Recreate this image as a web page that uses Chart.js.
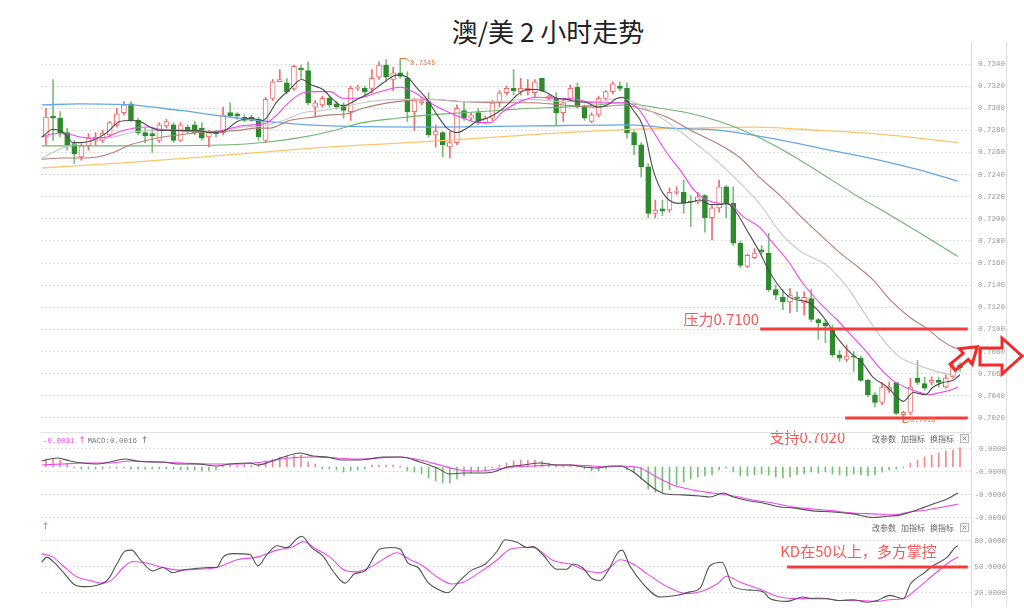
<!DOCTYPE html>
<html><head><meta charset="utf-8">
<script src="https://cdn.jsdelivr.net/npm/chart.js@4.4.0/dist/chart.umd.min.js"></script>
<style>
html,body{margin:0;padding:0;background:#fff;}
#wrap{position:relative;width:1024px;height:612px;overflow:hidden;background:#fff;}
canvas{position:absolute;left:0;top:0;}
#title{position:absolute;top:15px;left:448px;width:200px;text-align:center;white-space:nowrap;font-family:"Noto Sans CJK SC",sans-serif;font-size:26px;color:#222;line-height:1.2;}
</style></head><body>
<div id="wrap">
<div id="title">澳/美 2 小时走势</div>
<canvas id="main" width="1024" height="612"></canvas>
<canvas id="macd" width="1024" height="612"></canvas>
<canvas id="kd" width="1024" height="612"></canvas>
</div>
<script>
// ---------- candles (2-hour AUD/USD) ----------
const opens = [.7274,.7293,.7291,.7278,.7268,.7256,.7266,.7271,.7271,.7276,.7285,.7296,.7304,.7289,.7278,.7277,.7271,.7284,.7285,.7271,
.7283,.7285,.7282,.7274,.7279,.7278,.7296,.7295,.7292,.7292,.7290,.7271,.7309,.7324,.7323,.7318,.7336,.7334,.7301,.7303,
.7309,.7304,.7303,.7297,.7318,.7318,.7318,.7328,.7339,.7326,.7332,.7327,.7297,.7305,.7306,.7276,.7278,.7265,.7269,.7298,
.7291,.7296,.7287,.7291,.7305,.7314,.7318,.7315,.7316,.7314,.7327,.7309,.7309,.7296,.7309,.7319,.7301,.7288,.7294,.7309,
.7315,.7320,.7318,.7278,.7267,.7247,.7205,.7209,.7208,.7224,.7224,.7216,.7215,.7221,.7201,.7210,.7229,.7214,.7178,.7157,
.7165,.7172,.7169,.7136,.7129,.7125,.7129,.7124,.7128,.7109,.7106,.7101,.7077,.7073,.7076,.7074,.7054,.7041,.7034,.7045,
.7052,.7023,.7025,.7056,.7051,.7052,.7054,.7048,.7057,.7068];
const closes = [.7292,.7291,.7278,.7267,.7259,.7266,.7273,.7274,.7277,.7287,.7295,.7303,.7289,.7278,.7275,.7275,.7285,.7288,.7271,.7285,
.7280,.7278,.7273,.7278,.7277,.7294,.7293,.7293,.7289,.7289,.7274,.7308,.7324,.7326,.7315,.7338,.7335,.7305,.7305,.7309,
.7303,.7301,.7298,.7318,.7319,.7315,.7327,.7339,.7328,.7332,.7329,.7297,.7307,.7307,.7276,.7279,.7267,.7269,.7300,.7291,
.7294,.7288,.7291,.7305,.7314,.7318,.7316,.7318,.7318,.7324,.7316,.7311,.7296,.7305,.7318,.7301,.7291,.7294,.7309,.7315,
.7322,.7318,.7278,.7267,.7247,.7205,.7208,.7207,.7224,.7225,.7214,.7215,.7220,.7201,.7210,.7229,.7214,.7178,.7158,.7167,
.7169,.7170,.7136,.7131,.7125,.7131,.7128,.7129,.7109,.7106,.7103,.7077,.7074,.7076,.7075,.7054,.7041,.7034,.7048,.7048,
.7024,.7025,.7048,.7052,.7047,.7054,.7052,.7056,.7067,.7065];
const highs = [.7300,.7326,.7297,.7282,.7271,.7269,.7277,.7278,.7280,.7288,.7300,.7306,.7306,.7291,.7282,.7282,.7287,.7290,.7287,.7287,
.7285,.7288,.7287,.7280,.7280,.7301,.7305,.7296,.7294,.7294,.7292,.7310,.7326,.7335,.7327,.7339,.7339,.7342,.7307,.7311,
.7311,.7306,.7305,.7320,.7321,.7320,.7335,.7342,.7344,.7337,.7345,.7333,.7309,.7309,.7314,.7285,.7279,.7279,.7303,.7306,
.7296,.7300,.7293,.7307,.7316,.7320,.7335,.7327,.7326,.7326,.7327,.7312,.7314,.7307,.7321,.7323,.7303,.7296,.7311,.7316,
.7324,.7324,.7323,.7280,.7269,.7250,.7217,.7217,.7228,.7229,.7235,.7221,.7224,.7222,.7213,.7235,.7230,.7229,.7180,.7168,
.7173,.7176,.7187,.7140,.7136,.7137,.7134,.7134,.7136,.7110,.7109,.7104,.7081,.7086,.7080,.7076,.7055,.7043,.7052,.7052,
.7052,.7026,.7056,.7072,.7057,.7057,.7057,.7059,.7070,.7070];
const lows = [.7267,.7271,.7274,.7262,.7250,.7253,.7262,.7267,.7269,.7274,.7283,.7294,.7288,.7276,.7269,.7260,.7269,.7282,.7269,.7270,
.7278,.7276,.7271,.7265,.7274,.7276,.7292,.7290,.7288,.7288,.7271,.7269,.7307,.7324,.7313,.7316,.7327,.7303,.7292,.7301,
.7301,.7299,.7291,.7289,.7316,.7312,.7314,.7326,.7324,.7316,.7327,.7288,.7280,.7303,.7274,.7265,.7256,.7255,.7267,.7289,
.7289,.7285,.7286,.7289,.7301,.7312,.7312,.7312,.7312,.7310,.7315,.7307,.7285,.7288,.7307,.7300,.7289,.7287,.7292,.7307,
.7313,.7316,.7273,.7258,.7238,.7201,.7201,.7203,.7206,.7222,.7205,.7193,.7214,.7188,.7181,.7206,.7201,.7176,.7156,.7156,
.7164,.7168,.7134,.7127,.7118,.7115,.7116,.7113,.7107,.7091,.7088,.7075,.7071,.7071,.7062,.7053,.7039,.7030,.7032,.7043,
.7023,.7016,.7023,.7050,.7045,.7050,.7048,.7047,.7056,.7062];

// ---------- moving averages: [candle index, price] ----------
const ma5 = [[-0.6,.7274],[1,.7281],[2.4,.72785],[3.8,.7269],[5.2,.7269],[6.6,.7271],[8.6,.7278],[10.4,.7288],[11.9,.7289],[13.3,.7288],[14.7,.7283],[16.1,.7280],[17.5,.7280],[19.3,.7280],[21.3,.7280],[23.1,.7278],[25,.7279],[27,.7288],[28.8,.7291],[30.6,.7289],[32.6,.7306],[34.4,.7317],[36.1,.7326],[37.5,.7321],[39.1,.7317],[40.5,.7308],[41.9,.7302],[43.9,.7308],[45.7,.7314],[47.6,.7323],[49.5,.7330],[51,.7328],[52.4,.7318],[53.8,.7308],[55.2,.7294],[56.6,.7282],[58,.7278],[59.4,.7282],[60.8,.7288],[62.2,.7291],[63.7,.7296],[65.1,.7303],[66.5,.7312],[67.9,.7317],[69.3,.7317],[70.7,.7314],[72.1,.7309],[73.5,.7308],[74.9,.7306],[76.4,.7305],[77.8,.7301],[79.2,.7303],[80.6,.7309],[81.4,.7310],[82.9,.7298],[84.3,.7283],[85.7,.7244],[87.1,.7223],[89.1,.7214],[90.9,.7215],[92.3,.7217],[93.7,.7213],[95.1,.7213],[96.1,.7214],[97.2,.7208],[98.9,.7190],[100.8,.7169],[102.2,.7151],[105,.7129],[107.8,.7124],[110,.7109],[111.6,.7093],[113.5,.7079],[115.2,.7070],[116.7,.7057],[118.7,.7048],[120.1,.7039],[121,.7035],[122.4,.7043],[124.1,.7041],[125.2,.7048],[126.6,.7052],[128,.7054],[129,.7059]];
const ma10 = [[-0.6,.7274],[1,.7277],[3,.7277],[4.8,.7274],[6.6,.7273],[8.6,.7274],[10.4,.7279],[12.3,.7282],[14.3,.7283],[16.1,.7281],[17.9,.7280],[19.9,.7279],[21.7,.7279],[23.6,.7279],[25.5,.7281],[27.4,.7284],[29.2,.7285],[31.2,.7287],[32.6,.7294],[34.4,.7306],[36.3,.7314],[38.2,.7315],[40.1,.7315],[41.9,.7309],[43.9,.7309],[47.1,.7315],[50,.7319],[51.8,.7315],[54.2,.7305],[56.6,.7297],[58.9,.7291],[61.3,.7287],[62.7,.7287],[64.5,.7297],[66.9,.7306],[69.3,.7310],[72.1,.7309],[74.9,.7308],[77.2,.7305],[79.6,.7305],[81.4,.7305],[83.4,.7301],[85.3,.7283],[87.6,.7260],[89.5,.7244],[91.6,.7225],[93.3,.7217],[95.1,.7214],[96.6,.7213],[98.4,.7202],[100.8,.7192],[102.2,.7181],[104.6,.7163],[106.8,.7142],[109.2,.7124],[111.6,.7109],[113.9,.7093],[115.9,.7079],[117.7,.7065],[119.5,.7054],[121.5,.7047],[123.4,.7043],[124.8,.7041],[126.2,.7043],[127.6,.7045],[128.7,.7048]];
const ma20 = [[-0.6,.7255],[2.4,.7264],[5.8,.7270],[9.5,.7274],[12.8,.7279],[16.5,.7280],[20.3,.7280],[24.1,.7279],[27.8,.7283],[30.6,.7284],[33.5,.7289],[36.3,.7296],[39.1,.7298],[42.5,.7302],[44.7,.7305],[49.5,.7308],[54.2,.7308],[58.9,.7306],[63.7,.7306],[68.3,.7308],[73,.7306],[77.8,.7306],[81,.7309],[83.8,.7303],[86.7,.7292],[89.5,.7279],[92.3,.7265],[95.1,.7250],[98,.7232],[100.8,.7213],[103.6,.7188],[106.4,.7171],[110.2,.7158],[113.1,.7138],[115.9,.7111],[118.1,.7091],[120.5,.7075],[122.9,.7068],[125.2,.7063],[127.6,.7059],[129,.7057]];
const ma30 = [[-0.6,.7254],[2.4,.7255],[4.8,.7255],[7.2,.7256],[9.5,.7260],[11.9,.7267],[14.3,.7271],[16.5,.7274],[18.9,.7276],[21.3,.7278],[24.1,.7279],[27,.7280],[29.8,.7282],[31.6,.7282],[34.4,.7289],[37.7,.7292],[40.1,.7294],[42.5,.7295],[44.7,.7300],[49.5,.7306],[54.2,.7308],[58.9,.7306],[63.7,.7305],[68.3,.7305],[73,.7303],[77.8,.7301],[81.4,.7303],[83.8,.7300],[87.6,.7292],[91.3,.7279],[95.1,.7267],[98,.7255],[100.8,.7237],[103.6,.7221],[106.4,.7203],[109.2,.7186],[112.1,.7169],[113.9,.7160],[116.7,.7145],[119.1,.7127],[121.9,.7111],[124.3,.7101],[126.2,.7091],[128,.7084],[129.3,.7082]];
const ma60 = [[-0.6,.7266],[11.9,.7266],[26,.7267],[30.6,.7269],[35.4,.7273],[40.1,.7279],[44.7,.7287],[49.5,.7291],[54.2,.7294],[58.9,.7296],[63.7,.7298],[68.3,.7300],[73,.7301],[77.8,.7303],[81,.7305],[85.7,.7301],[90.5,.7296],[95.1,.7288],[99.8,.7276],[104.6,.7260],[109.2,.7242],[113.9,.7223],[118.7,.7205],[123.4,.7187],[128.7,.7166]];
const ma120 = [[-0.6,.7303],[4.8,.7304],[11.9,.7303],[18.9,.7298],[26,.7292],[33,.7287],[40.1,.7284],[54.2,.7283],[68.3,.7284],[82.4,.7285],[88.1,.7282],[95.1,.7280],[102.2,.7273],[109.2,.7264],[116.3,.7255],[123.4,.7244],[128.7,.7234]];
const ma250 = [[-0.6,.7246],[11.9,.7251],[26,.7258],[40.1,.7265],[54.2,.7270],[68.3,.7276],[82.4,.7281],[90.5,.7282],[99.8,.7283],[109.2,.7280],[118.7,.7276],[128.7,.7269]];
const priceTicks = [0.7340,0.7320,0.7300,0.7280,0.7260,0.7240,0.7220,0.7200,0.7180,0.7160,0.7140,0.7120,0.7100,0.7080,0.7060,0.7040,0.7020];

// ---------- MACD ----------
const macdHist = [.00066,.00066,.00058,.00025,-.00008,-.00017,-.00017,-.00017,-.00017,-.00008,
-.00008,-.00008,-.00017,-.00017,-.00017,-.00017,-.00017,-.00017,-.00017,-.00025,
-.00025,-.00025,-.00033,-.00033,-.00025,.00008,.00017,.00017,.00025,.00017,
.00017,.00042,.00066,.00083,.00091,.001,.001,.00042,.00025,-.00017,
-.00017,-.00025,-.00042,-.00033,-.00025,-.00017,.00017,.00017,.00017,.00017,
.00008,-.00033,-.00042,-.00058,-.00091,-.00116,-.00133,-.00133,-.001,-.00075,
-.0005,-.00042,-.00033,-.00008,.00017,.00033,.0005,.00058,.00058,.00058,
.0005,.00033,.00017,.00008,.00017,.00008,-.00017,-.00033,-.00033,-.00017,
.00008,.00008,-.00025,-.0005,-.001,-.00183,-.00208,-.00208,-.00191,-.0015,
-.00125,-.001,-.00083,-.00075,-.00066,-.00025,-.00008,-.00042,-.00075,-.00075,
-.00066,-.00058,-.00066,-.00083,-.00091,-.00083,-.00066,-.00058,-.00042,-.0005,
-.00042,-.00058,-.00066,-.00075,-.00058,-.00066,-.00075,-.00066,-.00042,-.00025,
-.00017,-.00008,.00033,.00058,.00083,.001,.00116,.00133,.00141,.0016];
const difLine = [[-0.6,.0005],[1.6,.00075],[3.4,.0005],[5.2,.00033],[7.2,.00025],[9,.00042],[11.2,.00066],[12.8,.0005],[14.7,.00042],[16.5,.00042],[18.5,.00025],[21.3,.00025],[24.1,.00008],[26,.00025],[28.8,.00033],[29.9,.00017],[31.6,.00042],[33.5,.00083],[35.9,.00116],[37.7,.00091],[39.7,.00083],[41.9,.00058],[43.9,.00058],[45.7,.00066],[47.6,.00083],[50,.00083],[52.8,.00042],[55.2,-.00008],[57,-.00058],[58.9,-.0005],[61.3,-.0005],[63.1,-.00042],[65.1,0],[67.3,.00017],[69.7,.00033],[72.1,.00017],[74,.00017],[75.8,0],[77.8,-.00008],[79.6,.00008],[81,.00008],[82.9,-.00042],[84.3,-.00108],[85.7,-.00174],[87.4,-.00224],[89.9,-.00232],[92.3,-.00241],[93.7,-.00249],[95.6,-.00216],[97,-.00249],[99.4,-.00282],[101.2,-.00299],[103.6,-.00332],[105.4,-.0034],[108.3,-.00365],[111.1,-.00374],[113.9,-.0039],[116.7,-.0042],[118.7,-.0041],[120.5,-.004],[122.9,-.00357],[125.2,-.00307],[127.2,-.00266],[128.7,-.00216]];
const deaLine = [[-0.6,.00017],[2.4,.00025],[5.2,.00033],[9,.00033],[11.9,.0005],[15.7,.00042],[19.3,.00033],[23.1,.00025],[27,.00025],[30.6,.00042],[34.4,.00075],[38.2,.00083],[41.1,.00075],[43.9,.00066],[46.7,.00075],[50,.00083],[52.8,.00058],[55.6,.00017],[58.4,-.00025],[61.3,-.00033],[63.7,-.00017],[65.9,0],[68.7,.00008],[71.6,.00017],[74.4,.00017],[77.2,.00008],[79.6,0],[81,.00008],[83.8,-.00008],[86.2,-.00083],[88.5,-.00149],[91.3,-.00191],[94.1,-.00216],[97,-.00241],[99.8,-.00274],[102.6,-.00299],[105.4,-.00332],[108.3,-.00349],[111.1,-.00365],[113.9,-.00382],[116.7,-.0039],[119.5,-.00398],[121.9,-.00374],[124.3,-.00357],[126.6,-.00332],[128.7,-.0031]];
const macdTicks = [0.0015,-0.0004,-0.0023,-0.0042];
const macdTickLabels = ['0.0000','-0.0000','-0.0000','-0.0000'];

// ---------- KD ----------
const kLine = [[-0.6,55],[0.1,61],[1,56],[2.4,44],[4.1,29],[5.5,27],[6.9,28],[8.3,32],[9,38],[10,53],[11.2,68],[12.1,69],[13.3,58],[15.1,45],[16.5,49],[17.9,43],[19.3,46],[21.3,48],[23.1,49],[24.1,49],[25,61],[26.4,65],[28.8,64],[29.9,51],[31.2,64],[32.6,74],[34,72],[35.4,82],[36.1,85],[37.5,72],[39.1,62],[40.5,45],[42.2,31],[43.6,42],[45,45],[47.1,70],[48.8,72],[50,70],[51.1,54],[52.5,49],[53.9,32],[55.3,24],[56.7,20],[58.4,34],[60.1,46],[62,53],[63.7,68],[64.8,81],[66.5,78],[67.9,72],[68.7,73],[70.1,64],[72.1,47],[73.5,47],[74.4,53],[75.7,49],[77.1,36],[78.2,34],[79.3,45],[80.7,66],[81.3,69],[82.4,51],[84.3,30],[86.7,15],[89.1,17],[90.9,21],[92.3,25],[93.7,51],[95.4,55],[97,27],[99.4,23],[101.2,21],[102.2,13],[104.6,10],[106.8,15],[108.3,13],[110.2,13],[112.1,11],[113.9,12],[115.9,9],[117.3,11],[119.1,17],[121,13],[122,30],[123.8,42],[125.2,51],[127.2,61],[128.3,72],[128.7,74]];
const dLine = [[-0.6,65],[1,61],[2.4,51],[4.4,38],[6.2,34],[8,31],[9.5,36],[10.9,49],[12.3,56],[14.3,54],[16.5,49],[18.9,46],[21.3,47],[24.1,49],[27,58],[29.8,61],[32.6,69],[34.9,73],[36.3,79],[38.2,70],[40.1,61],[41.9,47],[43.6,44],[45.7,49],[48.1,61],[49.5,66],[51.4,58],[53.2,51],[55.2,38],[57.3,30],[58.9,32],[61.3,44],[63.7,58],[65.5,70],[67.3,72],[68.7,72],[71.6,57],[74,53],[76.4,45],[78.2,43],[79.6,49],[81,58],[82.9,53],[84.8,42],[87.7,27],[90.5,19],[92.7,22],[94.7,30],[96.1,39],[98,32],[100.8,24],[103.6,15],[106.4,13],[109.2,14],[112.1,11],[114.9,11],[117.3,10],[119.1,12],[121,13],[122.4,21],[124.3,34],[126.2,47],[127.6,56],[128.7,61]];
const kdTicks = [80, 50, 20];

// ---------- annotations ----------
const resistance = 0.7100, support = 0.7020, kdLevel = 50;
const resistanceFrom = 100.8, supportFrom = 112.8, kdLevelFrom = 104.6, levelTo = 130.1;
const resistanceText = '压力0.7100', supportText = '支持0.7020', kdText = 'KD在50以上，多方掌控';
const toolbarItems = ['改参数','加指标','换指标'];

// ---------- styling / helpers ----------
const X_MIN = -0.7, X_MAX = 130.55;
const RED = '#ef6c6c', GREEN = '#2d8a2d', GREEN_WICK = '#79bd79', MAG = '#f046f0', DARK = '#505050';
const LEVEL = '#f53b3b', LEVEL_TXT = '#f25a5a';
const MONO = '"Liberation Mono", monospace', CJK = '"Noto Sans CJK SC", sans-serif';
const idx = opens.map((_, i) => i);
const up = i => closes[i] >= opens[i];
const pts = arr => arr.map(([x, y]) => ({x, y}));

function xScale() {
  return {type:'linear', min:X_MIN, max:X_MAX, display:false, offset:false, grid:{display:false}};
}
function yScale(min, max, tickVals, labelFn, pad, align) {
  return {
    type:'linear', position:'right', min, max, bounds:'data', beginAtZero:false,
    afterBuildTicks: s => { s.ticks = tickVals.map(v => ({value:v})); },
    afterFit: s => { s.width = 35; },
    grid:{color:'#dedede', lineWidth:1, drawTicks:false},
    border:{display:false, dash:[2,2]},
    ticks:{autoSkip:false, padding:pad, crossAlign:align, color:'#999', font:{family:'Liberation Mono', size:7.5}, callback:(v, i) => labelFn(v, i)}
  };
}
function lineDs(data, color, w) {
  return {type:'line', data:pts(data), borderColor:color, borderWidth:w || 1, pointRadius:0, cubicInterpolationMode:'monotone', fill:false, order:0};
}
function seg(ctx, x1, y1, x2, y2, color, w) {
  ctx.save(); ctx.beginPath(); ctx.strokeStyle = color; ctx.lineWidth = w; ctx.setLineDash([]);
  ctx.moveTo(x1, y1); ctx.lineTo(x2, y2); ctx.stroke(); ctx.restore();
}
function poly(ctx, p) {
  ctx.beginPath(); p.forEach(([a, b], k) => k ? ctx.lineTo(a, b) : ctx.moveTo(a, b)); ctx.closePath();
}
function drawToolbar(ctx, y) {
  ctx.save();
  ctx.font = '8px ' + CJK; ctx.fillStyle = '#666'; ctx.textBaseline = 'middle'; ctx.textAlign = 'left';
  const xs = [872, 901, 930];
  toolbarItems.forEach((t, k) => ctx.fillText(t, xs[k], y));
  ctx.strokeStyle = '#b5b5b5'; ctx.lineWidth = 1; ctx.strokeRect(960.5, y - 4.5, 8, 8);
  seg(ctx, 962.5, y - 2.5, 966.5, y + 1.5, '#888', 1); seg(ctx, 966.5, y - 2.5, 962.5, y + 1.5, '#888', 1);
  ctx.restore();
}
const common = {responsive:false, animation:false, devicePixelRatio:1, events:[],
  plugins:{legend:{display:false}, tooltip:{enabled:false}}};

// ---------- main price panel ----------
const mainDeco = {
  id:'mainDeco',
  afterDraw(chart) {
    const {ctx, chartArea:a, scales:{x, y}} = chart;
    seg(ctx, a.right + 0.5, 42, a.right + 0.5, 607, '#dcdcdc', 1);
    seg(ctx, 1006.5, 42, 1006.5, 607, '#dcdcdc', 1);
    // resistance & support
    const yR = Math.round(y.getPixelForValue(resistance)), yS = Math.round(y.getPixelForValue(support));
    const xR = x.getPixelForValue(resistanceFrom), xS = x.getPixelForValue(supportFrom), xE = x.getPixelForValue(levelTo);
    seg(ctx, xR, yR, xE, yR, LEVEL, 3);
    seg(ctx, xS, yS, xE, yS, LEVEL, 3);
    ctx.save();
    ctx.fillStyle = LEVEL_TXT; ctx.font = '15px ' + CJK; ctx.textAlign = 'right'; ctx.textBaseline = 'alphabetic';
    ctx.fillText(resistanceText, xR - 1, yR - 4);
    ctx.fillText(supportText, xS, yS + 25);
    ctx.restore();
    // high / low markers
    let hi = 0, lo = 0;
    highs.forEach((v, i) => { if (v > highs[hi]) hi = i; });
    lows.forEach((v, i) => { if (v < lows[lo]) lo = i; });
    const hx = x.getPixelForValue(hi), hy = y.getPixelForValue(highs[hi]);
    const lx = x.getPixelForValue(lo), ly = y.getPixelForValue(lows[lo]);
    ctx.save();
    ctx.strokeStyle = '#e8743b'; ctx.lineWidth = 1;
    ctx.beginPath(); ctx.moveTo(hx, hy); ctx.lineTo(hx + 6, hy); ctx.lineTo(hx + 9, hy + 3); ctx.stroke();
    ctx.beginPath(); ctx.moveTo(lx, ly); ctx.lineTo(lx + 4, ly); ctx.lineTo(lx + 6, ly - 2); ctx.stroke();
    ctx.fillStyle = '#e8743b'; ctx.font = '7px ' + MONO; ctx.textBaseline = 'middle'; ctx.textAlign = 'left';
    ctx.fillText(highs[hi].toFixed(4), hx + 10, hy + 4.5);
    ctx.fillText(lows[lo].toFixed(4), lx + 7, ly - 2);
    ctx.restore();
    // arrows
    ctx.save();
    ctx.strokeStyle = '#f42a2a'; ctx.lineWidth = 3; ctx.lineJoin = 'miter';
    ctx.save(); ctx.translate(965, 357); ctx.rotate(-40 * Math.PI / 180);
    poly(ctx, [[-16,-4],[1,-4],[1,-10],[16,0],[1,10],[1,4],[-16,4]]); ctx.stroke();
    ctx.restore();
    poly(ctx, [[980,348],[1002,348],[1002,338],[1022,356],[1002,374],[1002,365],[980,365]]); ctx.stroke();
    ctx.restore();
  }
};

new Chart(document.getElementById('main'), {
  type:'bar',
  data:{datasets:[
    lineDs(ma5, '#4d4d4d', 1.1),
    lineDs(ma10, MAG, 1.1),
    lineDs(ma20, '#c6c6c6', 1.1),
    lineDs(ma30, '#b97c74', 1.1),
    lineDs(ma60, '#6db66d', 1.1),
    lineDs(ma120, '#64a8e6', 1.3),
    lineDs(ma250, '#ffc46b', 1.3),
    {type:'bar', data:idx.map(i => ({x:i, y:[opens[i], closes[i]]})),
     backgroundColor:idx.map(i => up(i) ? '#ffffff' : GREEN), borderColor:idx.map(i => up(i) ? RED : GREEN),
     borderWidth:1, borderSkipped:false, barThickness:5, minBarLength:1, grouped:false, order:1},
    {type:'bar', data:idx.map(i => ({x:i, y:[lows[i], highs[i]]})),
     backgroundColor:idx.map(i => up(i) ? RED : GREEN_WICK), barThickness:1, grouped:false, order:2}
  ]},
  options:Object.assign({}, common, {
    layout:{padding:{left:41, right:18, top:45, bottom:184}},
    scales:{x:xScale(), y:yScale(0.70109, 0.73572, priceTicks, v => v.toFixed(4), 7, 'near')}
  }),
  plugins:[mainDeco]
});

// ---------- MACD panel ----------
const macdDeco = {
  id:'macdDeco',
  afterDraw(chart) {
    const {ctx, chartArea:a} = chart;
    seg(ctx, a.left, a.top + 0.5, a.right, a.top + 0.5, '#e2e2e2', 1);
    ctx.save();
    ctx.font = '7.5px ' + MONO; ctx.textBaseline = 'middle'; ctx.textAlign = 'left';
    let tx = 43; const ty = 441;
    const t1 = deaLine[deaLine.length - 1][1].toFixed(4);
    const t2 = 'MACD:' + macdHist[macdHist.length - 1].toFixed(4);
    ctx.fillStyle = MAG; ctx.fillText(t1, tx, ty); tx += ctx.measureText(t1).width + 4;
    ctx.font = '9px "DejaVu Sans"'; ctx.fillText('↑', tx, ty); tx += 9;
    ctx.font = '7.5px ' + MONO; ctx.fillStyle = '#777'; ctx.fillText(t2, tx, ty); tx += ctx.measureText(t2).width + 4;
    ctx.font = '9px "DejaVu Sans"'; ctx.fillText('↑', tx, ty);
    ctx.restore();
    drawToolbar(ctx, 439);
  }
};
new Chart(document.getElementById('macd'), {
  type:'bar',
  data:{datasets:[
    lineDs(difLine, DARK, 1.1),
    lineDs(deaLine, MAG, 1.1),
    {type:'bar', data:idx.map(i => ({x:i, y:macdHist[i]})),
     backgroundColor:idx.map(i => macdHist[i] >= 0 ? '#f08a8a' : '#78c078'), barThickness:1, grouped:false, order:1}
  ]},
  options:Object.assign({}, common, {
    layout:{padding:{left:41, right:18, top:432, bottom:94}},
    scales:{x:xScale(), y:yScale(-0.00424, 0.00291, macdTicks, (v, i) => macdTickLabels[i], 2, 'far')}
  }),
  plugins:[macdDeco]
});

// ---------- KD panel ----------
const kdDeco = {
  id:'kdDeco',
  afterDraw(chart) {
    const {ctx, scales:{x, y}} = chart;
    ctx.save();
    ctx.fillStyle = MAG; ctx.font = '9px "DejaVu Sans"'; ctx.textBaseline = 'middle'; ctx.textAlign = 'left';
    ctx.fillText('↑', 42, 527);
    ctx.restore();
    drawToolbar(ctx, 528);
    const yL = Math.round(y.getPixelForValue(kdLevel));
    const x0 = x.getPixelForValue(kdLevelFrom), x1 = x.getPixelForValue(levelTo);
    seg(ctx, x0, yL, x1, yL, LEVEL, 3);
    ctx.save();
    ctx.fillStyle = LEVEL_TXT; ctx.font = '15px ' + CJK; ctx.textAlign = 'left'; ctx.textBaseline = 'alphabetic';
    ctx.fillText(kdText, x0 - 7, yL - 10);
    ctx.restore();
  }
};
new Chart(document.getElementById('kd'), {
  type:'line',
  data:{datasets:[
    lineDs(kLine, DARK, 1.1),
    lineDs(dLine, MAG, 1.1)
  ]},
  options:Object.assign({}, common, {
    layout:{padding:{left:41, right:18, top:518, bottom:5}},
    scales:{x:xScale(), y:yScale(5.3, 106, kdTicks, v => v.toFixed(4), 2, 'far')}
  }),
  plugins:[kdDeco]
});
</script>
</body></html>
